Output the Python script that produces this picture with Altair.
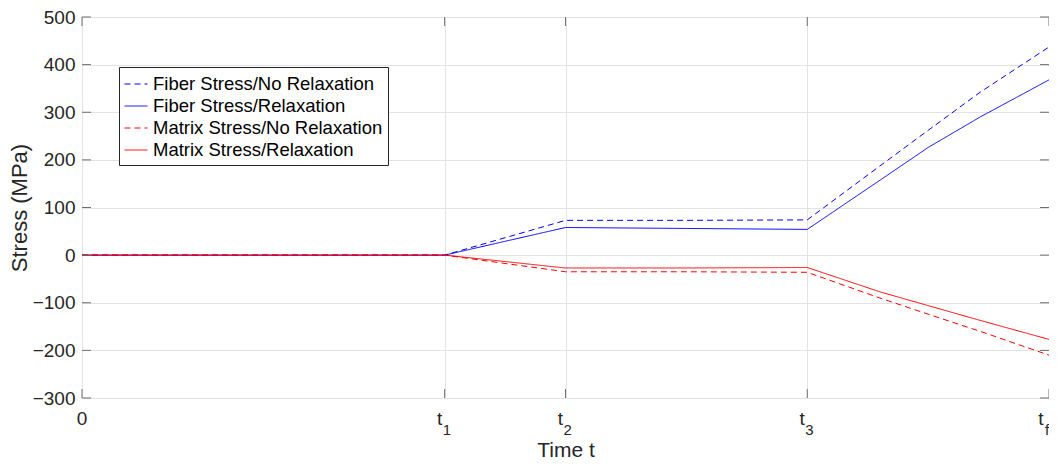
import altair as alt
import pandas as pd

# ---- data ----
time = [0, 3, 4, 5, 6, 6.6, 7.0, 7.43, 8]
fiber_norelax = [0, 0, 73, 73, 74, 187, 262, 342, 437]
fiber_relax = [0, 0, 58, 56, 54, 157, 226, 290, 368]
matrix_norelax = [0, 0, -35, -35, -36, -90, -124, -160, -210]
matrix_relax = [0, 0, -27, -27, -26, -77, -106, -137, -177]

series_names = ["Fiber Stress/No Relaxation", "Fiber Stress/Relaxation",
                "Matrix Stress/No Relaxation", "Matrix Stress/Relaxation"]
series_colors = ["#0000ff", "#0000ff", "#ff0000", "#ff0000"]
series_dash = [[6, 4], [1, 0], [6, 4], [1, 0]]

xtick_vals = [0, 3, 4, 6, 8]
xtick_main = ["0", "t", "t", "t", "t"]
xtick_sub = ["", "1", "2", "3", "f"]
ytick_vals = list(range(-300, 501, 100))

W, H = 967, 381
FONT = "Liberation Sans"
AXC = "#6e6e6e"
TXC = "#262626"

rows = []
for name, vals in zip(series_names, [fiber_norelax, fiber_relax, matrix_norelax, matrix_relax]):
    for t, v in zip(time, vals):
        rows.append({"series": name, "time": t, "stress": v})
df = pd.DataFrame(rows)

xdf = pd.DataFrame({"time": xtick_vals, "main": xtick_main, "sub": xtick_sub})
ydf = pd.DataFrame({"stress": ytick_vals})

xscale = alt.Scale(domain=[0, 8], nice=False, zero=False)
yscale = alt.Scale(domain=[-300, 500], nice=False, zero=False)

legend = alt.Legend(title=None, orient="none", legendX=37, legendY=50,
                    fillColor="white", strokeColor=TXC, padding=5,
                    labelFontSize=18.5, labelFont=FONT, labelColor="black",
                    symbolType="stroke", symbolSize=529, symbolStrokeWidth=1,
                    labelOffset=5, rowPadding=0, labelLimit=400, cornerRadius=0)

xaxis = alt.Axis(values=xtick_vals, grid=True, gridColor="#e3e3e3",
                 labels=False, ticks=False, domain=False,
                 title="Time t", titleFontSize=21, titleFontWeight="normal",
                 titleFont=FONT, titleColor=TXC, titlePadding=41)
yaxis = alt.Axis(values=ytick_vals, grid=True, gridColor="#e3e3e3",
                 ticks=False, domain=False, labelFontSize=19, labelFont=FONT,
                 labelColor=TXC, labelPadding=7,
                 title="Stress (MPa)", titleFontSize=22, titleFontWeight="normal",
                 titleFont=FONT, titleColor=TXC,
                 titleX=-63, titleY=H / 2, titleAngle=270,
                 titleAlign="center", titleBaseline="middle")

lines = alt.Chart(df).mark_line(strokeWidth=1, clip=True).encode(
    x=alt.X("time:Q", scale=xscale, axis=xaxis, title="Time t"),
    y=alt.Y("stress:Q", scale=yscale, axis=yaxis, title="Stress (MPa)"),
    color=alt.Color("series:N", scale=alt.Scale(domain=series_names, range=series_colors),
                    legend=legend),
    strokeDash=alt.StrokeDash("series:N", scale=alt.Scale(domain=series_names, range=series_dash),
                              legend=legend),
)

tick_len = 9
lticks = alt.Chart(ydf).mark_rule(color=AXC, strokeWidth=1).encode(
    y=alt.Y("stress:Q", scale=yscale), x=alt.value(0), x2=alt.value(tick_len))
rticks = alt.Chart(ydf).mark_rule(color=AXC, strokeWidth=1).encode(
    y=alt.Y("stress:Q", scale=yscale), x=alt.value(W - tick_len), x2=alt.value(W))
bticks = alt.Chart(xdf).mark_rule(color=AXC, strokeWidth=1).encode(
    x=alt.X("time:Q", scale=xscale), y=alt.value(H - tick_len), y2=alt.value(H))
tticks = alt.Chart(xdf).mark_rule(color=AXC, strokeWidth=1).encode(
    x=alt.X("time:Q", scale=xscale), y=alt.value(0), y2=alt.value(tick_len))


def main_label(flt, dx):
    return alt.Chart(xdf).transform_filter(flt).mark_text(
        fontSize=19, font=FONT, color=TXC, align="center", baseline="alphabetic", dx=dx).encode(
        x=alt.X("time:Q", scale=xscale), y=alt.value(408), text="main:N")


def sub_label(flt, dx):
    return alt.Chart(xdf).transform_filter(flt).mark_text(
        fontSize=15, font=FONT, color=TXC, align="left", baseline="alphabetic", dx=dx).encode(
        x=alt.X("time:Q", scale=xscale), y=alt.value(418), text="sub:N")


inner = (alt.datum.sub != "") & (alt.datum.sub != "f")
last = alt.datum.sub == "f"
lab0 = main_label(alt.datum.sub == "", 0)
labt = main_label(inner, -5)
labs = sub_label(inner, -2)
labtf = main_label(last, -8)
labsf = sub_label(last, -4)

chart = alt.layer(lines, lticks, rticks, bticks, tticks, lab0, labt, labs, labtf, labsf).properties(
    width=W, height=H,
    autosize=alt.AutoSizeParams(type="none"),
    padding={"left": 74, "top": 9, "right": 0, "bottom": 62},
).configure_view(stroke=AXC, strokeWidth=1).configure(font=FONT)

chart.save("out.html", embed_options={"renderer": "svg", "actions": False})
